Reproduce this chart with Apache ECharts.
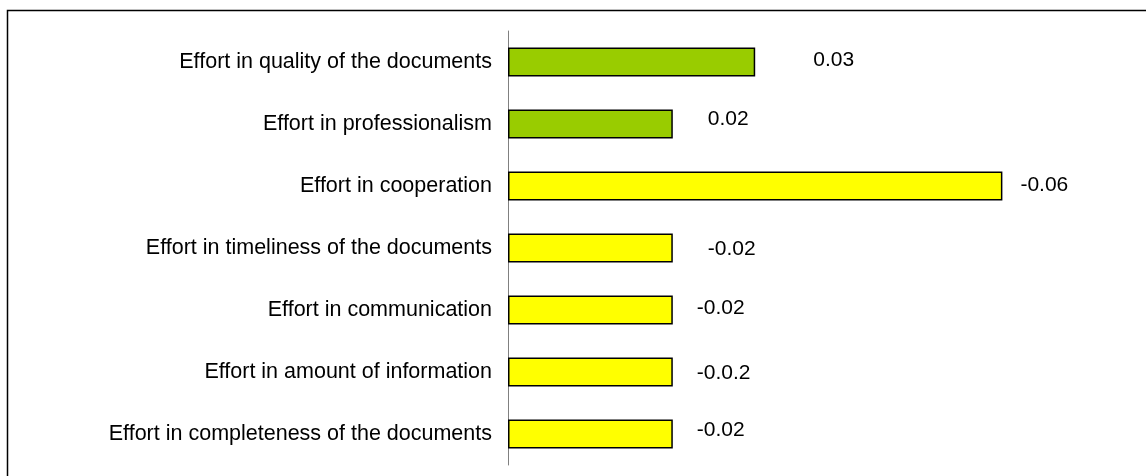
<!DOCTYPE html>
<html>
<head>
<meta charset="utf-8">
<script src="https://cdn.jsdelivr.net/npm/echarts@6/dist/echarts.min.js"></script>
<style>
html,body{margin:0;padding:0;background:#fff}
#main{width:1146px;height:476px}
</style>
</head>
<body>
<div id="main"></div>
<script>
// categories, top to bottom
const categories = [
  'Effort in quality of the documents',
  'Effort in professionalism',
  'Effort in cooperation',
  'Effort in timeliness of the documents',
  'Effort in communication',
  'Effort in amount of information',
  'Effort in completeness of the documents'
]
// bar lengths (magnitude of the effort)
const values = [0.03, 0.02, 0.06, 0.02, 0.02, 0.02, 0.02]
// value labels as printed in the chart
const valueLabels = ['0.03', '0.02', '-0.06', '-0.02', '-0.02', '-0.0.2', '-0.02']
// positive effort -> green, negative -> yellow
const signs = [1, 1, -1, -1, -1, -1, -1]

// label placement nudges [distance, dy]
const nudge = [[58, -2], [35, -5], [18, -1], [35, 1], [24, -2], [24, 1], [24, -4]]

let myChart = echarts.init(document.getElementById('main'))

myChart.setOption({
  animation: false,
  textStyle: { fontFamily: 'Liberation Sans, Arial, sans-serif' },
  graphic: [{
    type: 'rect',
    shape: { x: 7.5, y: 10.5, width: 1300, height: 600 },
    style: { fill: 'none', stroke: '#000', lineWidth: 1.5 },
    silent: true
  }],
  grid: { left: 508, right: 20, top: 31, bottom: 11 },
  xAxis: {
    type: 'value',
    min: 0,
    max: 0.075,
    show: false
  },
  yAxis: {
    type: 'category',
    inverse: true,
    data: categories,
    axisLine: { show: true, lineStyle: { color: '#808080', width: 1 } },
    axisTick: { show: false },
    axisLabel: { color: '#000', fontSize: 21.5, margin: 16 }
  },
  series: [{
    type: 'bar',
    barWidth: 29,
    data: values.map((v, i) => ({
      value: v,
      itemStyle: { color: signs[i] > 0 ? '#99CC00' : '#FFFF00' },
      label: { distance: nudge[i][0], offset: [0, nudge[i][1]] }
    })),
    itemStyle: { borderColor: '#000', borderWidth: 1.5 },
    label: {
      show: true,
      position: 'right',
      color: '#000',
      fontSize: 21,
      formatter: p => valueLabels[p.dataIndex]
    }
  }]
})
</script>
</body>
</html>
